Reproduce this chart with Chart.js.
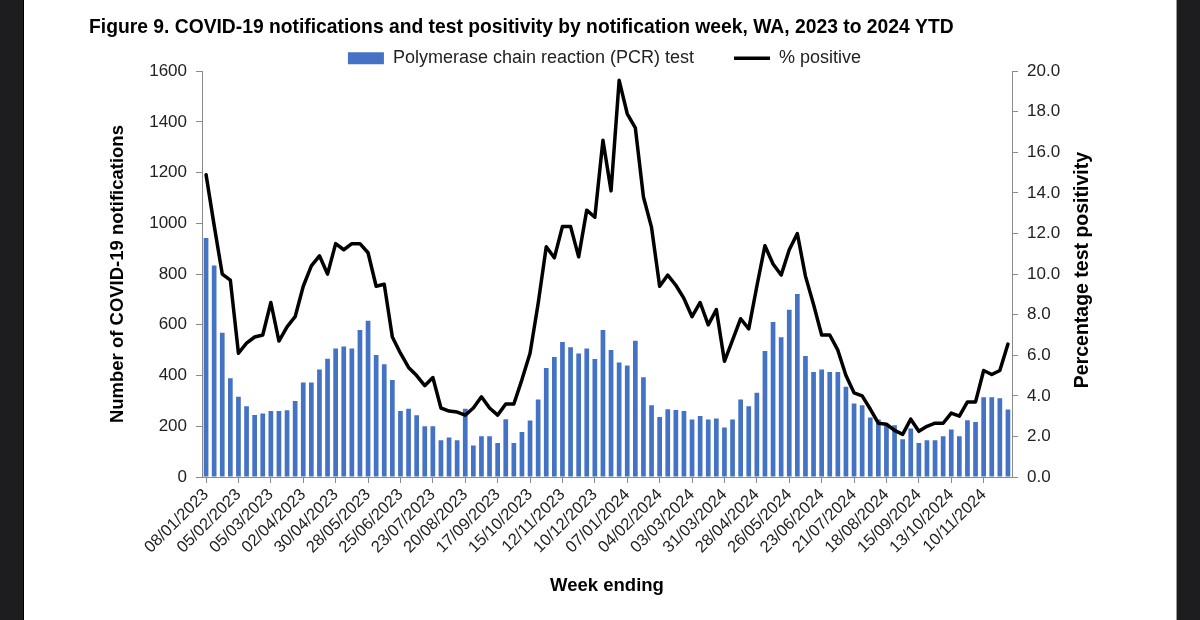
<!DOCTYPE html>
<html>
<head>
<meta charset="utf-8">
<script src="https://cdn.jsdelivr.net/npm/chart.js@4.4.1/dist/chart.umd.min.js"></script>
<style>
html,body{margin:0;padding:0;background:#fff;overflow:hidden;}
#wrap{position:absolute;left:0;top:0;width:1200px;height:620px;}
.side{position:absolute;top:0;height:620px;background:#1d1d1f;}
</style>
</head>
<body>
<div id="wrap"><canvas id="c" width="1200" height="620"></canvas></div>
<div class="side" style="left:0;width:23px;border-right:1px solid #000;"></div>
<div class="side" style="left:1176px;width:24px;border-left:1px solid #9a9a9a;"></div>
<script>
// ---- Data ----
const weeks = [
  '08/01/2023','15/01/2023','22/01/2023','29/01/2023','05/02/2023','12/02/2023','19/02/2023','26/02/2023',
  '05/03/2023','12/03/2023','19/03/2023','26/03/2023','02/04/2023','09/04/2023','16/04/2023','23/04/2023',
  '30/04/2023','07/05/2023','14/05/2023','21/05/2023','28/05/2023','04/06/2023','11/06/2023','18/06/2023',
  '25/06/2023','02/07/2023','09/07/2023','16/07/2023','23/07/2023','30/07/2023','06/08/2023','13/08/2023',
  '20/08/2023','27/08/2023','03/09/2023','10/09/2023','17/09/2023','24/09/2023','01/10/2023','08/10/2023',
  '15/10/2023','22/10/2023','29/10/2023','05/11/2023','12/11/2023','19/11/2023','26/11/2023','03/12/2023',
  '10/12/2023','17/12/2023','24/12/2023','31/12/2023','07/01/2024','14/01/2024','21/01/2024','28/01/2024',
  '04/02/2024','11/02/2024','18/02/2024','25/02/2024','03/03/2024','10/03/2024','17/03/2024','24/03/2024',
  '31/03/2024','07/04/2024','14/04/2024','21/04/2024','28/04/2024','05/05/2024','12/05/2024','19/05/2024',
  '26/05/2024','02/06/2024','09/06/2024','16/06/2024','23/06/2024','30/06/2024','07/07/2024','14/07/2024',
  '21/07/2024','28/07/2024','04/08/2024','11/08/2024','18/08/2024','25/08/2024','01/09/2024','08/09/2024',
  '15/09/2024','22/09/2024','29/09/2024','06/10/2024','13/10/2024','20/10/2024','27/10/2024','03/11/2024',
  '10/11/2024','17/11/2024','24/11/2024','01/12/2024'
];
const tickLabels = [
  '08/01/2023','05/02/2023','05/03/2023','02/04/2023','30/04/2023','28/05/2023','25/06/2023','23/07/2023',
  '20/08/2023','17/09/2023','15/10/2023','12/11/2023','10/12/2023','07/01/2024','04/02/2024','03/03/2024',
  '31/03/2024','28/04/2024','26/05/2024','23/06/2024','21/07/2024','18/08/2024','15/09/2024','13/10/2024',
  '10/11/2024'
];
const pcrTests = [
  942, 834, 569, 389, 316, 279, 244, 250, 260, 260, 263, 300, 373, 373, 424, 466,
  507, 514, 507, 580, 616, 481, 445, 382, 260, 269, 243, 200, 200, 145, 156, 145,
  269, 124, 161, 161, 134, 228, 134, 177, 223, 306, 430, 473, 532, 512, 487, 507,
  465, 580, 501, 451, 440, 537, 393, 283, 237, 267, 264, 260, 227, 240, 227, 231,
  195, 227, 306, 279, 332, 497, 611, 551, 659, 721, 477, 414, 424, 414, 414, 356,
  290, 283, 235, 227, 204, 204, 149, 191, 134, 145, 145, 161, 187, 161, 224, 217,
  314, 314, 310, 266
];
const pctPositive = [
  14.9, 12.4, 10.0, 9.7, 6.1, 6.6, 6.9, 7.0, 8.6, 6.7, 7.4, 7.9, 9.4, 10.4, 10.9, 10.0,
  11.5, 11.2, 11.5, 11.5, 11.05, 9.4, 9.5, 6.9, 6.1, 5.4, 5.0, 4.5, 4.9, 3.4, 3.25, 3.2,
  3.05, 3.4, 3.95, 3.4, 3.05, 3.6, 3.6, 4.8, 6.1, 8.55, 11.35, 10.8, 12.35, 12.35, 10.85, 13.15,
  12.8, 16.6, 14.1, 19.55, 17.9, 17.2, 13.8, 12.3, 9.4, 9.95, 9.45, 8.8, 7.9, 8.6, 7.5, 8.25,
  5.7, 6.75, 7.8, 7.3, 9.4, 11.4, 10.5, 9.95, 11.2, 12.0, 9.9, 8.5, 7.0, 7.0, 6.25, 5.0,
  4.15, 4.0, 3.35, 2.65, 2.6, 2.3, 2.1, 2.85, 2.25, 2.5, 2.65, 2.65, 3.15, 3.0, 3.7, 3.7,
  5.25, 5.05, 5.25, 6.55
];
const chartTitle = 'Figure 9. COVID-19 notifications and test positivity by notification week, WA, 2023 to 2024 YTD';
const barLabel = 'Polymerase chain reaction (PCR) test';
const lineLabel = '% positive';
const leftAxisTitle = 'Number of COVID-19 notifications';
const rightAxisTitle = 'Percentage test positivity';
const xAxisTitle = 'Week ending';

// ---- Styling ----
const FAMILY = '"Liberation Sans", Arial, sans-serif';
const AXIS_GREY = '#8a8a8a';
const TICK_TXT = '#222222';
Chart.defaults.font.family = FAMILY;

const rightTitlePlugin = {
  id: 'rightTitle',
  afterDraw(chart) {
    const s = chart.scales.y1;
    const ctx = chart.ctx;
    const ca = chart.chartArea;
    ctx.save();
    ctx.font = 'bold 19.5px ' + FAMILY;
    ctx.fillStyle = '#000';
    ctx.textAlign = 'center';
    ctx.textBaseline = 'middle';
    ctx.translate(s.right - 37, (ca.top + ca.bottom) / 2 - 4);
    ctx.rotate(-Math.PI / 2);
    ctx.fillText(s.options.title.text, 0, 0);
    ctx.restore();
  }
};

new Chart(document.getElementById('c'), {
  type: 'bar',
  data: {
    labels: weeks,
    datasets: [
      {
        type: 'bar',
        label: barLabel,
        data: pcrTests,
        yAxisID: 'y',
        backgroundColor: '#4472C4',
        borderWidth: 0,
        categoryPercentage: 1.0,
        barPercentage: 0.58,
        pointStyle: 'rect',
        order: 2
      },
      {
        type: 'line',
        label: lineLabel,
        data: pctPositive,
        yAxisID: 'y1',
        borderColor: '#000000',
        backgroundColor: '#000000',
        borderWidth: 3.5,
        borderJoinStyle: 'round',
        borderCapStyle: 'round',
        tension: 0,
        pointRadius: 0,
        pointHoverRadius: 0,
        pointStyle: 'line',
        pointBorderWidth: 3.5,
        pointBorderColor: '#000000',
        order: 1
      }
    ]
  },
  options: {
    responsive: false,
    animation: false,
    devicePixelRatio: 1,
    layout: { padding: { top: 4, left: 89, right: 80, bottom: 0 } },
    plugins: {
      title: {
        display: true,
        text: chartTitle,
        align: 'start',
        color: '#000',
        font: { family: FAMILY, size: 19.3, weight: 'bold' },
        padding: { top: 12.5, bottom: -30.5 }
      },
      legend: {
        display: true,
        position: 'top',
        maxHeight: 62,
        labels: {
          usePointStyle: true,
          pointStyleWidth: 36,
          boxHeight: 12,
          padding: 40,
          color: TICK_TXT,
          font: { family: FAMILY, size: 18 },
          sort: (a, b) => a.datasetIndex - b.datasetIndex
        }
      },
      tooltip: { enabled: false }
    },
    scales: {
      x: {
        offset: true,
        grid: {
          offset: false,
          drawOnChartArea: false,
          drawTicks: true,
          tickLength: 6,
          tickColor: (ctx) => (tickLabels.includes(weeks[ctx.index]) ? AXIS_GREY : 'rgba(0,0,0,0)')
        },
        border: { display: true, color: AXIS_GREY, width: 1 },
        ticks: {
          autoSkip: false,
          minRotation: 45,
          maxRotation: 45,
          padding: 2,
          color: TICK_TXT,
          font: { family: FAMILY, size: 16.5 },
          callback: function (v, i) { const l = weeks[i]; return tickLabels.includes(l) ? l : ''; }
        },
        title: {
          display: true,
          text: xAxisTitle,
          color: '#000',
          font: { family: FAMILY, size: 18.5, weight: 'bold' },
          padding: { top: 0, bottom: 23 }
        },
        afterFit(s) { s.height = 143; }
      },
      y: {
        position: 'left',
        min: 0,
        max: 1600,
        grid: { drawOnChartArea: false, drawTicks: true, tickLength: 6, color: AXIS_GREY },
        border: { display: true, color: AXIS_GREY, width: 1 },
        ticks: {
          stepSize: 200, padding: 9, color: TICK_TXT, font: { family: FAMILY, size: 17 },
          callback: (v) => String(v)
        },
        title: {
          display: true,
          text: leftAxisTitle,
          color: '#000',
          font: { family: FAMILY, size: 18.5, weight: 'bold' },
          padding: { top: 18, bottom: 0 }
        },
        afterFit(s) { s.width = 113; }
      },
      y1: {
        position: 'right',
        min: 0,
        max: 20,
        grid: { drawOnChartArea: false, drawTicks: true, tickLength: 6, color: AXIS_GREY },
        border: { display: true, color: AXIS_GREY, width: 1 },
        ticks: {
          stepSize: 2, padding: 9, color: TICK_TXT, font: { family: FAMILY, size: 17 },
          callback: (v) => Number(v).toFixed(1)
        },
        title: { display: false, text: rightAxisTitle },
        afterFit(s) { s.width = 108; }
      }
    }
  },
  plugins: [rightTitlePlugin]
});
</script>
</body>
</html>
